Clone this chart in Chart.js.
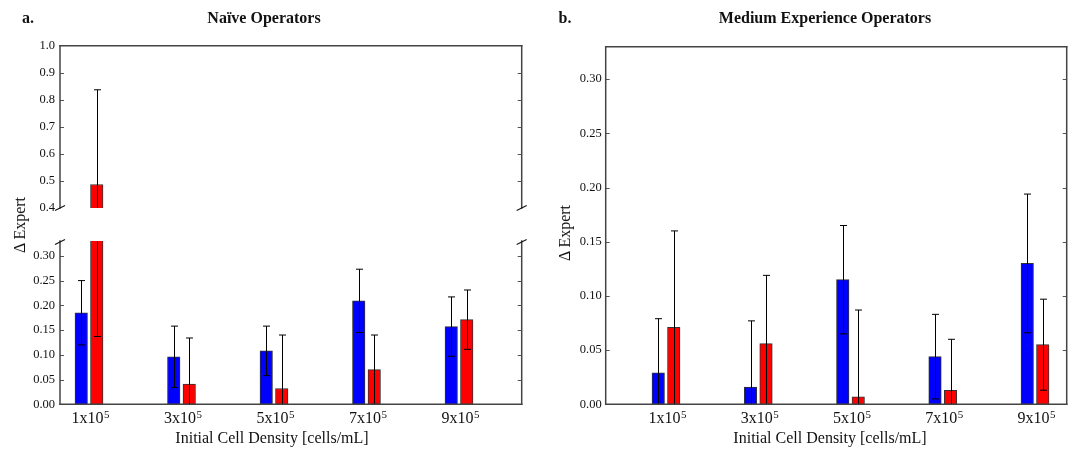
<!DOCTYPE html>
<html>
<head>
<meta charset="utf-8">
<script src="https://cdn.jsdelivr.net/npm/chart.js@4/dist/chart.umd.min.js"></script>
<style>
  html, body { margin: 0; padding: 0; background: #fff; }
  #wrap { position: relative; width: 1072px; height: 450px; overflow: hidden; background: #fff; }
  canvas { position: absolute; left: 0; top: 0; }
  .t { position: absolute; white-space: nowrap; line-height: 1; color: #111;
       font-family: "Liberation Serif", "DejaVu Serif", serif; transform: translate(-50%, -50%); }
  .b { font-weight: bold; font-size: 16px; }
  .ax { font-size: 16px; }
  .rot { transform: translate(-50%, -50%) rotate(-90deg); }
</style>
</head>
<body>
<div id="wrap">
  <canvas id="cUp" width="1072" height="450"></canvas>
  <canvas id="cLo" width="1072" height="450"></canvas>
  <canvas id="cR" width="1072" height="450"></canvas>
  <div class="t b" style="left:28px; top:18px;">a.</div>
  <div class="t b" style="left:264px; top:18px;">Naïve Operators</div>
  <div class="t b" style="left:565px; top:18px;">b.</div>
  <div class="t b" style="left:825px; top:18px;">Medium Experience Operators</div>
  <div class="t ax rot" style="left:20px; top:225px;">Δ Expert</div>
  <div class="t ax rot" style="left:565px; top:233px;">Δ Expert</div>
  <div class="t ax" style="left:272px; top:438px;">Initial Cell Density [cells/mL]</div>
  <div class="t ax" style="left:830px; top:438px;">Initial Cell Density [cells/mL]</div>
</div>
<script>
// ---- data ----
const tickBase = ['1x10', '3x10', '5x10', '7x10', '9x10'];
const tickExp = '5';
const naiveBlue    = [0.185, 0.096, 0.108, 0.209, 0.157];
const naiveBlueErr = [0.065, 0.062, 0.050, 0.064, 0.060];
const naiveRed     = [0.487, 0.041, 0.032, 0.070, 0.171];
const naiveRedErr  = [0.350, 0.093, 0.108, 0.070, 0.060];
const medBlue      = [0.029, 0.016, 0.115, 0.044, 0.130];
const medBlueErr   = [0.050, 0.061, 0.050, 0.039, 0.064];
const medRed       = [0.071, 0.056, 0.007, 0.013, 0.055];
const medRedErr    = [0.089, 0.063, 0.080, 0.047, 0.042];

const SERIF = '"Liberation Serif", "DejaVu Serif", serif';
const W = 1072, H = 450;

function line(ctx, x1, y1, x2, y2) { ctx.beginPath(); ctx.moveTo(x1, y1); ctx.lineTo(x2, y2); ctx.stroke(); }

const errorBars = {
  id: 'errorBars',
  afterDatasetsDraw(chart) {
    const { ctx, chartArea: a } = chart; const ys = chart.scales.y;
    ctx.save();
    ctx.beginPath(); ctx.rect(a.left, a.top, a.right - a.left, a.bottom - a.top); ctx.clip();
    ctx.strokeStyle = '#000'; ctx.lineWidth = 1;
    chart.data.datasets.forEach((ds, di) => {
      const meta = chart.getDatasetMeta(di);
      meta.data.forEach((bar, i) => {
        const v = ds.data[i].y, e = ds.errors[i];
        const x = Math.round(bar.x) + 0.5;
        const yt = ys.getPixelForValue(v + e), yb = ys.getPixelForValue(v - e);
        line(ctx, x, yt, x, yb);
        line(ctx, x - 3.5, yt, x + 3.5, yt);
        line(ctx, x - 3.5, yb, x + 3.5, yb);
      });
    });
    ctx.restore();
  }
};

const frame = {
  id: 'frame',
  afterDraw(chart, args, o) {
    const { ctx, chartArea: a } = chart; const ys = chart.scales.y;
    ctx.save();
    ctx.strokeStyle = '#555'; ctx.lineWidth = 1;
    ys.ticks.forEach(t => {
      const py = Math.round(ys.getPixelForValue(t.value)) + 0.5;
      if (py < a.top + 2 || py > a.bottom - 2) return;
      line(ctx, a.left, py, a.left + 4, py);
      line(ctx, a.right - 4, py, a.right, py);
    });
    ctx.strokeStyle = '#444'; ctx.lineWidth = 1.5;
    line(ctx, a.left, a.top - 0.75, a.left, a.bottom + 0.75);
    line(ctx, a.right, a.top - 0.75, a.right, a.bottom + 0.75);
    if (o.top) line(ctx, a.left - 0.75, a.top, a.right + 0.75, a.top);
    if (o.bottom) line(ctx, a.left - 0.75, a.bottom, a.right + 0.75, a.bottom);
    if (o.brk) {
      ctx.strokeStyle = '#111'; ctx.lineWidth = 1.2;
      const yy = o.brk === 'bottom' ? a.bottom : a.top + 1;
      [a.left, a.right].forEach(xx => line(ctx, xx - 5, yy + 2.5, xx + 5, yy - 2.5));
    }
    if (o.xlabels) {
      const xs = chart.scales.x;
      ctx.fillStyle = '#111'; ctx.textAlign = 'left'; ctx.textBaseline = 'alphabetic';
      tickBase.forEach((b, i) => {
        const px = xs.getPixelForValue(i) + 1.5;
        ctx.font = '16px ' + SERIF; const w1 = ctx.measureText(b).width;
        ctx.font = '11px ' + SERIF; const w2 = ctx.measureText(tickExp).width;
        const x0 = px - (w1 + w2 + 0.5) / 2, yb = a.bottom + 19;
        ctx.font = '16px ' + SERIF; ctx.fillText(b, x0, yb);
        ctx.font = '11px ' + SERIF; ctx.fillText(tickExp, x0 + w1 + 0.5, yb - 5);
      });
    }
    ctx.restore();
  }
};

function ds(vals, errs, color) {
  return {
    data: vals.map((v, i) => ({ x: i, y: v })),
    errors: errs,
    backgroundColor: color,
    borderColor: '#333',
    borderWidth: 1,
    borderSkipped: false,
    barThickness: 15.5,
    maxBarThickness: 12.5,
    clip: 0
  };
}

function makeChart(id, cfg) {
  return new Chart(document.getElementById(id), {
    type: 'bar',
    data: { datasets: [ds(cfg.blue, cfg.blueErr, '#0000ff'), ds(cfg.red, cfg.redErr, '#ff0000')] },
    plugins: [errorBars, frame],
    options: {
      responsive: false, animation: false, events: [], devicePixelRatio: 1,
      layout: { padding: cfg.pad },
      plugins: { legend: { display: false }, tooltip: { enabled: false }, title: { display: false },
                 frame: cfg.frame },
      scales: {
        x: {
          type: 'linear', offset: false, min: cfg.xmin, max: cfg.xmax,
          display: cfg.xdisplay,
          grid: { display: false, drawTicks: false }, border: { display: false },
          ticks: { display: false },
          afterFit: s => { s.height = cfg.xdisplay ? 45.7 : 0; }
        },
        y: {
          min: cfg.ymin, max: cfg.ymax,
          grid: { display: false, drawTicks: false }, border: { display: false },
          ticks: {
            stepSize: cfg.step, includeBounds: false, padding: cfg.tpad, color: '#111',
            font: { family: SERIF, size: 12.5 },
            callback: v => v.toFixed(cfg.dec)
          },
          afterFit: s => { s.width = 40; }
        }
      }
    }
  });
}

// Left panel, upper segment (broken axis)
makeChart('cUp', {
  blue: naiveBlue, blueErr: naiveBlueErr, red: naiveRed, redErr: naiveRedErr,
  pad: { left: 20, top: 45.7, right: W - 521.7, bottom: H - 208 },
  xmin: -0.3135, xmax: 4.678, xdisplay: false,
  ymin: 0.4, ymax: 1.0, step: 0.1, dec: 1, tpad: 5,
  frame: { top: true, bottom: false, brk: 'bottom', xlabels: false }
});
// Left panel, lower segment
makeChart('cLo', {
  blue: naiveBlue, blueErr: naiveBlueErr, red: naiveRed, redErr: naiveRedErr,
  pad: { left: 20, top: 241, right: W - 521.7, bottom: 0 },
  xmin: -0.3135, xmax: 4.678, xdisplay: true,
  ymin: 0, ymax: 0.33, step: 0.05, dec: 2, tpad: 5,
  frame: { top: false, bottom: true, brk: 'top', xlabels: true }
});
// Right panel
makeChart('cR', {
  blue: medBlue, blueErr: medBlueErr, red: medRed, redErr: medRedErr,
  pad: { left: 565.7, top: 46.7, right: W - 1066.7, bottom: 0 },
  xmin: -0.6537, xmax: 4.3436, xdisplay: true,
  ymin: 0, ymax: 0.33, step: 0.05, dec: 2, tpad: 4,
  frame: { top: true, bottom: true, brk: null, xlabels: true }
});
</script>
</body>
</html>
